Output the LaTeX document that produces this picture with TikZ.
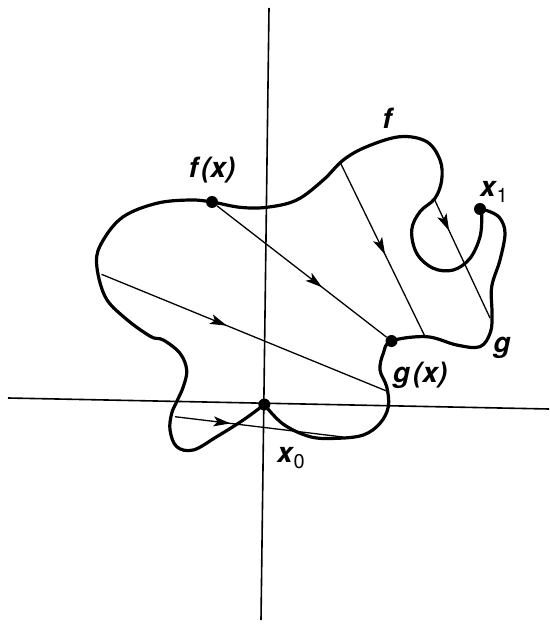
\documentclass[tikz,border=0pt]{standalone}
\usepackage{fontspec}
\setsansfont{TeX Gyre Heros}
\usetikzlibrary{arrows.meta,decorations.markings}

\begin{document}
\begin{tikzpicture}[x=1pt,y=-1pt,
    curve/.style={line width=3.2pt,line join=round,line cap=round},
    seg/.style={line width=1.3pt},
    midarrow/.style={postaction=decorate,decoration={markings,
      mark=at position #1 with {\arrow{Stealth[length=17pt,width=10pt,inset=4pt]}}}},
    dot/.style={circle,fill,inner sep=0pt,minimum size=12pt},
    lab/.style={font=\sffamily\bfseries\itshape\fontsize{28}{30}\selectfont,inner sep=1pt}]
  \useasboundingbox (0,0) rectangle (549,628);
  % axes
  \draw[line width=1.6pt] (269,8) -- (261,620);
  \draw[line width=1.6pt] (8,398) -- (549,409);
  % the two paths from x0 to x1
  \draw[curve] plot[smooth,tension=0.6] coordinates {(264.3,404.5) (243.3,420) (216.7,436.7)
    (193.3,450) (176.7,446.7) (170,430) (171.7,413.3) (176.7,401.7) (183.3,386.7) (186.7,370)
    (180,353.3) (163.3,340) (150.5,336.4) (125,318) (105,296.4) (96.5,262) (103.3,240)
    (123.3,216.7) (156.7,203.3) (190,200) (212,202) (240,207.3) (266.7,207.3) (296.7,200)
    (323.3,180) (343.3,160) (366.7,146.7) (400,136.7) (426.7,141.7) (440,160) (441.7,180)
    (435,198.3) (420,211.7) (411.7,230) (416.7,253.3) (433.3,268.3) (453.3,270) (470,258.3)
    (480,236.7) (481.7,215) (480,209)};
  \draw[curve] plot[smooth,tension=0.6] coordinates {(264.3,404.5) (283,424) (310,436.7)
    (336.7,438.3) (363.3,435) (380,423.3) (388.3,406.7) (386.7,386.7) (380,370) (383.3,353.3)
    (391.5,341) (426.7,336.7) (456.7,345) (480,346.7) (490.5,332) (492,313.3) (491.7,286.7)
    (500,260) (505,233.3) (500,218.3) (490,211.7) (480,209)};
  % points
  \node[dot] (x0) at (264.3,404.5) {};
  \node[dot] (fx) at (212,202) {};
  \node[dot] (gx) at (391.5,341) {};
  \node[dot] (x1) at (480,209) {};
  \coordinate (l2) at (101.5,274.3);
  \coordinate (r2) at (386.5,391);
  \coordinate (l3) at (340,162);
  \coordinate (r3) at (425,336.5);
  \coordinate (l4) at (434,198.5);
  \coordinate (r4) at (490,318);
  \coordinate (l5) at (175,416.7);
  \coordinate (r5) at (343,437);
  % segments from f to g
  \draw[seg,midarrow=0.62] (fx) -- (gx);
  \draw[seg,midarrow=0.44] (l2) -- (r2);
  \draw[seg,midarrow=0.53] (l3) -- (r3);
  \draw[seg,midarrow=0.27] (l4) -- (r4);
  \draw[seg,midarrow=0.33] (l5) -- (r5);
  % labels
  \node[lab] (fxl) at (212,170) {f\kern3pt(x)};
  \node[lab] (gxl) at (420,375) {g\kern3pt(x)};
  \node[lab] (fl) at (387,118) {f};
  \node[lab] (gl) at (502,348) {g};
  \node[lab] (x1l) at (494,192) {x\kern1pt\raisebox{-0.4ex}{\upshape\mdseries\fontsize{20}{22}\selectfont 1}};
  \node[lab] (x0l) at (291,458) {x\kern1pt\raisebox{-0.45ex}{\upshape\mdseries\fontsize{20}{22}\selectfont 0}};
\end{tikzpicture}
\end{document}
